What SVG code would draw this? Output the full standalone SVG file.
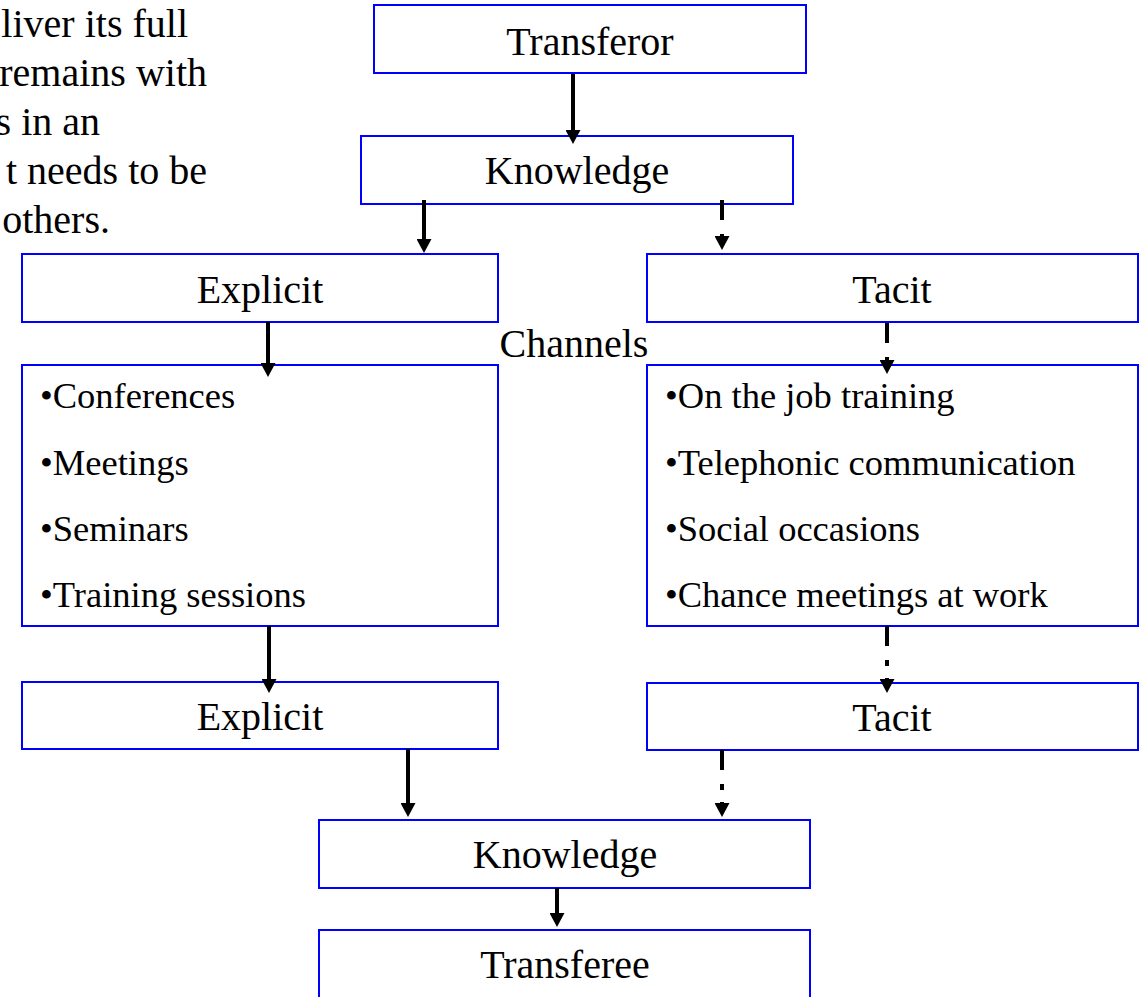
<svg xmlns="http://www.w3.org/2000/svg" width="1140" height="997" viewBox="0 0 1140 997">
  <style>
    .box { fill: #ffffff; stroke: #0000ff; stroke-width: 2; }
    .title { font-family: "Liberation Serif", "Times New Roman", serif; font-size: 40px; fill: #000; text-anchor: middle; }
    .item { font-family: "Liberation Serif", "Times New Roman", serif; font-size: 36.5px; fill: #000; }
    .para { font-family: "Liberation Serif", "Times New Roman", serif; font-size: 40px; fill: #000; text-anchor: end; }
    .solid { stroke: #000; stroke-width: 4; fill: none; }
    .dashed { stroke: #000; stroke-width: 4; fill: none; stroke-dasharray: 20 14 6 12; }
  </style>
  <defs>
    <marker id="head" markerUnits="userSpaceOnUse" viewBox="0 0 14 15" markerWidth="14" markerHeight="15" refX="0" refY="7.5" orient="auto">
      <path d="M0,0 L14,7.5 L0,15 Z" fill="#000"/>
    </marker>
  </defs>
  <rect width="1140" height="997" fill="#ffffff"/>

  <!-- paragraph fragment at top left -->
  <g id="paragraph">
    <text class="para" x="188" y="37">liver its full</text>
    <text class="para" x="207" y="86">remains with</text>
    <text class="para" x="100" y="135">s in an</text>
    <text class="para" x="207" y="184">t needs to be</text>
    <text class="para" x="110" y="233">others.</text>
  </g>

  <g id="transferor">
    <rect class="box" x="374" y="5" width="432" height="68"/>
    <text class="title" x="590" y="55">Transferor</text>
  </g>
  <g id="knowledge-source">
    <rect class="box" x="361" y="136" width="432" height="68"/>
    <text class="title" x="577" y="184">Knowledge</text>
  </g>
  <g id="explicit-source">
    <rect class="box" x="22" y="254" width="476" height="68"/>
    <text class="title" x="260" y="303">Explicit</text>
  </g>
  <g id="tacit-source">
    <rect class="box" x="647" y="254" width="491" height="68"/>
    <text class="title" x="892" y="303">Tacit</text>
  </g>

  <g id="channels-label">
    <text class="title" x="574" y="357">Channels</text>
  </g>

  <g id="explicit-channels">
    <rect class="box" x="22" y="365" width="476" height="261"/>
    <text class="item" x="40" y="408">•Conferences</text>
    <text class="item" x="40" y="475">•Meetings</text>
    <text class="item" x="40" y="541">•Seminars</text>
    <text class="item" x="40" y="607">•Training sessions</text>
  </g>
  <g id="tacit-channels">
    <rect class="box" x="647" y="365" width="491" height="261"/>
    <text class="item" x="665" y="408">•On the job training</text>
    <text class="item" x="665" y="475">•Telephonic communication</text>
    <text class="item" x="665" y="541">•Social occasions</text>
    <text class="item" x="665" y="607">•Chance meetings at work</text>
  </g>

  <g id="explicit-received">
    <rect class="box" x="22" y="682" width="476" height="67"/>
    <text class="title" x="260" y="730">Explicit</text>
  </g>
  <g id="tacit-received">
    <rect class="box" x="647" y="683" width="491" height="67"/>
    <text class="title" x="892" y="731">Tacit</text>
  </g>

  <g id="knowledge-received">
    <rect class="box" x="319" y="820" width="491" height="68"/>
    <text class="title" x="565" y="868">Knowledge</text>
  </g>
  <g id="transferee">
    <rect class="box" x="319" y="930" width="491" height="90"/>
    <text class="title" x="565" y="978">Transferee</text>
  </g>

  <!-- connectors drawn on top so the arrowheads overlap the box edges -->
  <g id="connectors">
    <line class="solid" x1="573" y1="74" x2="573" y2="130" marker-end="url(#head)"/>
    <line class="solid" x1="424" y1="200" x2="424" y2="239" marker-end="url(#head)"/>
    <line class="dashed" x1="722" y1="200" x2="722" y2="236" marker-end="url(#head)"/>
    <line class="solid" x1="268" y1="322" x2="268" y2="363" marker-end="url(#head)"/>
    <line class="dashed" x1="887" y1="323" x2="887" y2="360" marker-end="url(#head)"/>
    <line class="solid" x1="269" y1="626" x2="269" y2="679" marker-end="url(#head)"/>
    <line class="dashed" x1="887" y1="626" x2="887" y2="679" marker-end="url(#head)"/>
    <line class="solid" x1="408" y1="749" x2="408" y2="803" marker-end="url(#head)"/>
    <line class="dashed" x1="722" y1="750" x2="722" y2="803" marker-end="url(#head)"/>
    <line class="solid" x1="557" y1="888" x2="557" y2="913" marker-end="url(#head)"/>
  </g>
</svg>
